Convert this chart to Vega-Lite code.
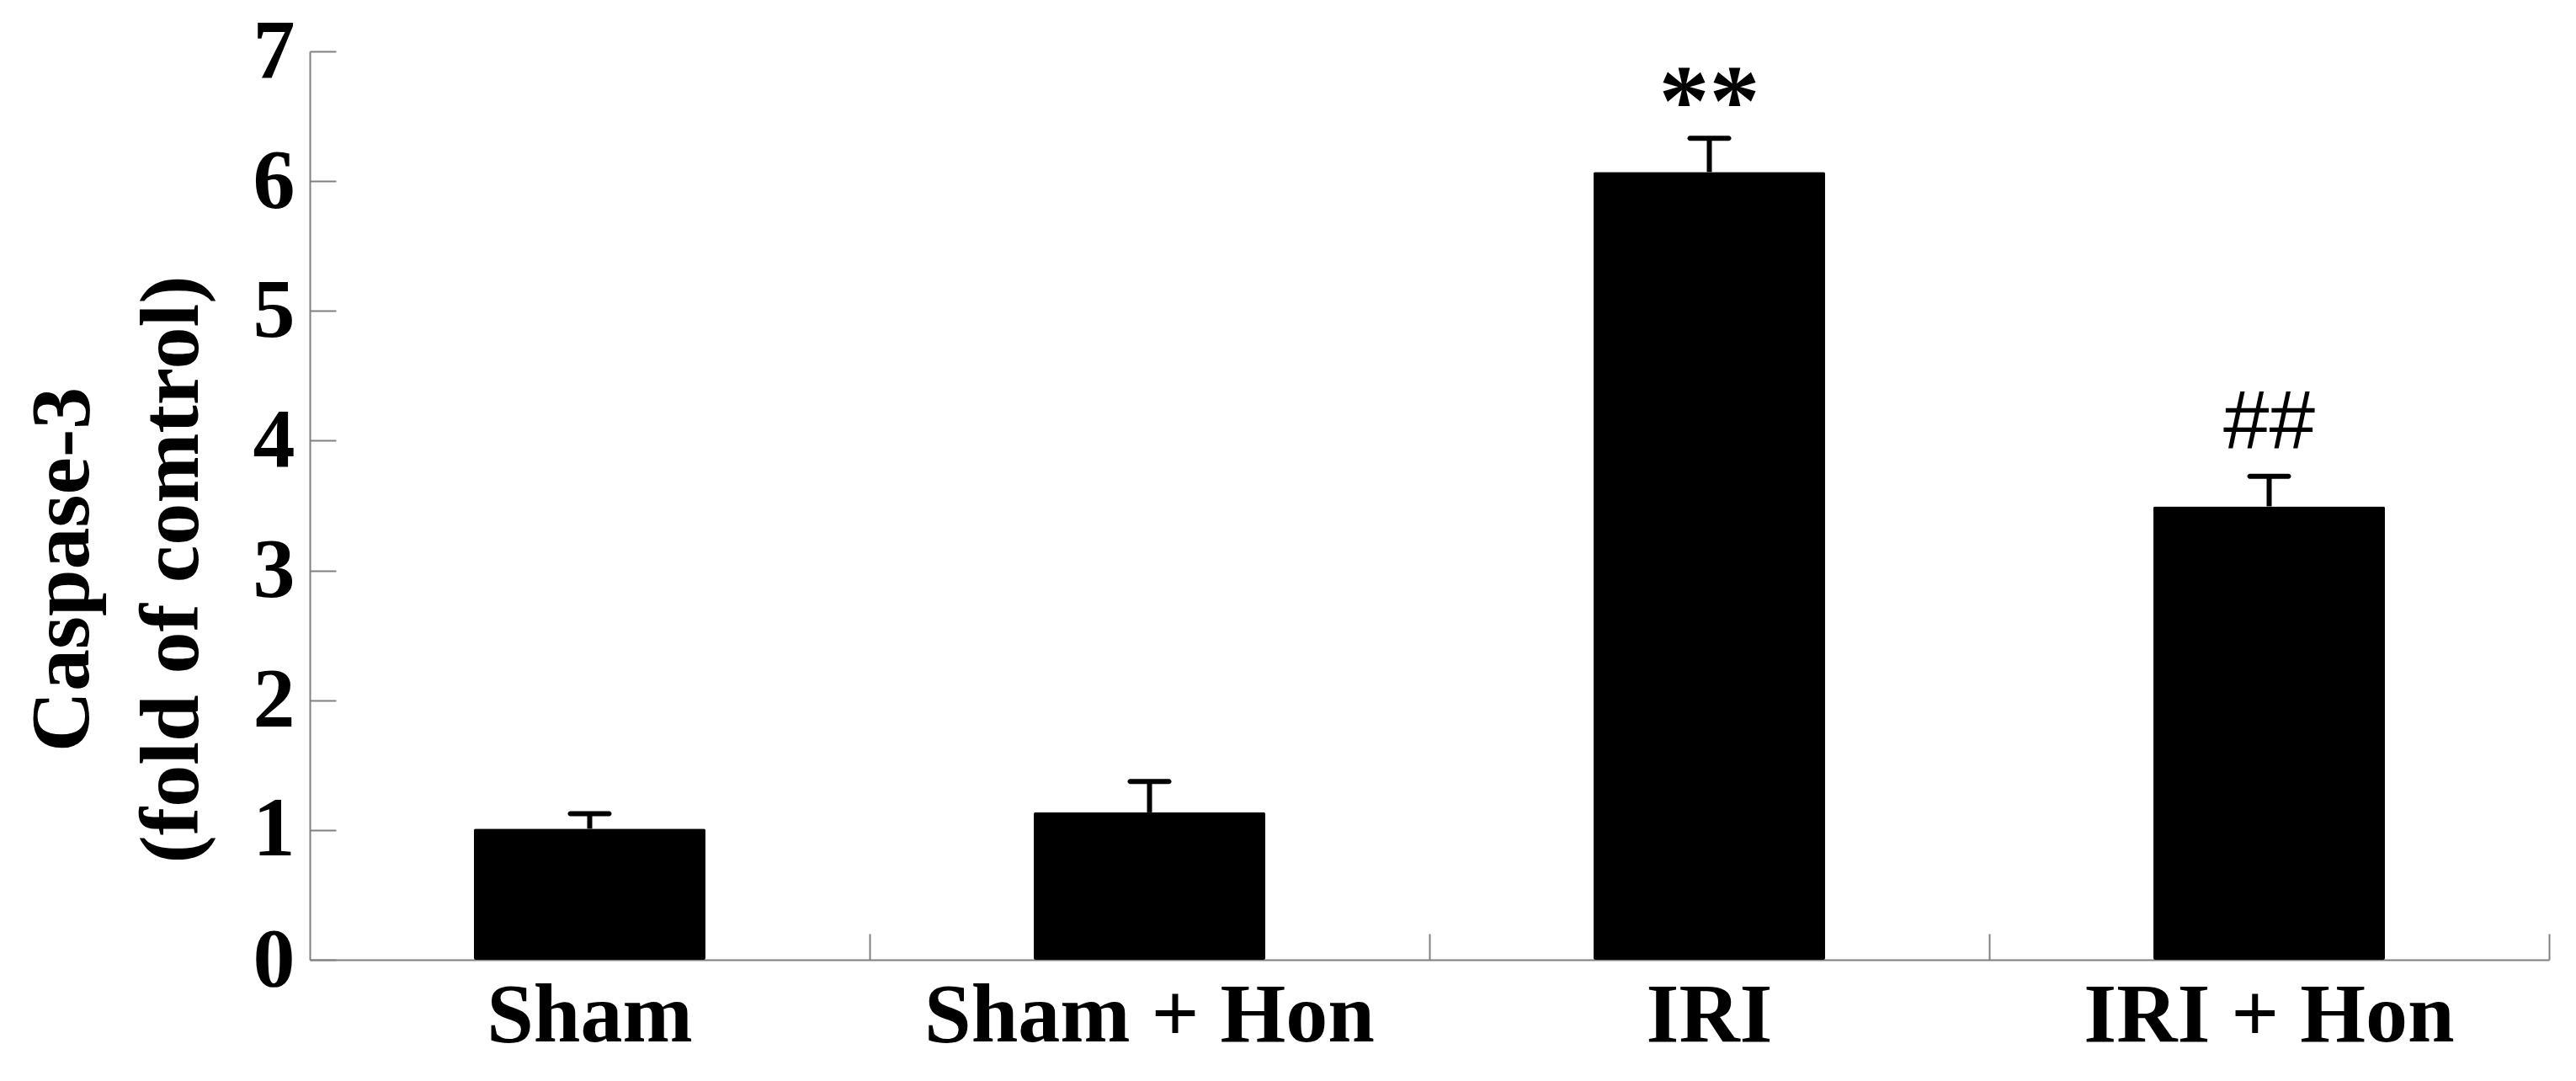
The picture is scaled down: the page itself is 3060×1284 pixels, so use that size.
{
  "$schema": "https://vega.github.io/schema/vega-lite/v6.json",
  "width": 2660,
  "height": 1079,
  "autosize": {"type": "none"},
  "padding": {"left": 368, "top": 61, "right": 32, "bottom": 144},
  "background": "white",
  "config": {
    "view": {"stroke": null},
    "axis": {
      "grid": false,
      "domainColor": "#808080",
      "domainWidth": 2,
      "tickColor": "#808080",
      "tickWidth": 2,
      "labelFont": "Liberation Serif",
      "labelFontWeight": "bold",
      "labelColor": "black",
      "labelLimit": 0,
      "titleFont": "Liberation Serif",
      "titleFontWeight": "bold",
      "titleColor": "black"
    }
  },
  "data": {
    "values": [
      {"group": "Sham", "mean": 1.01, "upper": 1.125, "sig": ""},
      {"group": "Sham + Hon", "mean": 1.136, "upper": 1.374, "sig": ""},
      {"group": "IRI", "mean": 6.07, "upper": 6.33, "sig": "**"},
      {"group": "IRI + Hon", "mean": 3.494, "upper": 3.726, "sig": "##"}
    ]
  },
  "layer": [
    {
      "mark": {"type": "bar", "color": "black", "width": {"band": 0.4135}, "cornerRadius": 2},
      "encoding": {
        "x": {
          "field": "group", "type": "nominal", "sort": null,
          "scale": {"paddingInner": 0, "paddingOuter": 0},
          "axis": {"title": null, "ticks": false, "labelAngle": 0, "labelFontSize": 100, "labelPadding": 17, "labelLimit": 0, "orient": "bottom"}
        },
        "y": {
          "field": "mean", "type": "quantitative",
          "scale": {"domain": [0, 7], "nice": false},
          "axis": {
            "title": ["Caspase-3", "(fold of comtrol)"],
            "values": [0, 1, 2, 3, 4, 5, 6, 7],
            "format": "d",
            "tickSize": -31,
            "labelFontSize": 100,
            "labelPadding": 49,
            "titleFontSize": 100,
            "titleLineHeight": 130,
            "titlePadding": 45,
            "titleY": 615,
            "orient": "left"
          }
        }
      }
    },
    {
      "mark": {"type": "rule", "strokeWidth": 6, "color": "black"},
      "encoding": {
        "x": {
          "field": "group", "type": "nominal", "sort": null,
          "axis": {"orient": "bottom", "title": null, "labels": false, "domain": false, "ticks": true, "tickSize": -31, "bandPosition": 1}
        },
        "y": {"field": "mean", "type": "quantitative"},
        "y2": {"field": "upper"}
      }
    },
    {
      "mark": {"type": "tick", "color": "black", "opacity": 1, "size": 52, "thickness": 6, "cornerRadius": 3},
      "encoding": {
        "x": {"field": "group", "type": "nominal", "sort": null, "axis": null},
        "y": {"field": "upper", "type": "quantitative"}
      }
    },
    {
      "transform": [{"filter": "datum.sig == '**'"}],
      "mark": {"type": "text", "font": "Liberation Serif", "fontWeight": "bold", "fontSize": 120, "baseline": "alphabetic", "dy": -4, "color": "black"},
      "encoding": {
        "x": {"field": "group", "type": "nominal", "sort": null, "axis": null},
        "y": {"field": "upper", "type": "quantitative"},
        "text": {"field": "sig"}
      }
    },
    {
      "transform": [{"filter": "datum.sig == '##'"}],
      "mark": {"type": "text", "font": "Liberation Sans", "fontWeight": "normal", "fontSize": 98, "baseline": "alphabetic", "dy": -33, "color": "black"},
      "encoding": {
        "x": {"field": "group", "type": "nominal", "sort": null, "axis": null},
        "y": {"field": "upper", "type": "quantitative"},
        "text": {"field": "sig"}
      }
    }
  ],
  "resolve": {"axis": {"x": "independent", "y": "shared"}}
}
